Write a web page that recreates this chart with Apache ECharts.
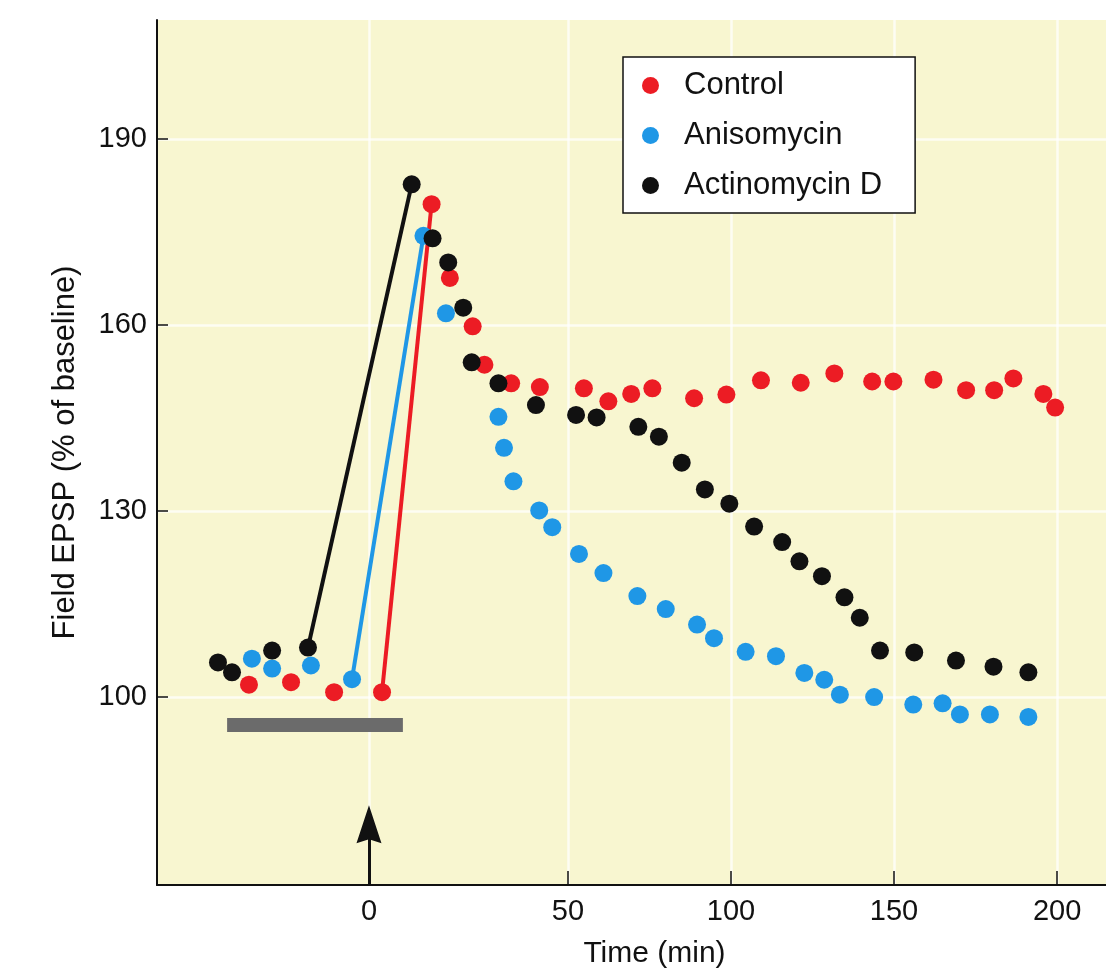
<!DOCTYPE html>
<html><head><meta charset="utf-8">
<script src="https://cdn.jsdelivr.net/npm/echarts@6/dist/echarts.min.js"></script>
<style>html,body{margin:0;padding:0;background:#fff}#c{width:1106px;height:975px}</style>
</head><body><div id="c"></div>
<script>
// ---- data ----
const xTickValues = [-11, 50, 100, 150, 200];
const xTickLabels = ['0', '50', '100', '150', '200'];
const yTickValues = [100, 130, 160, 190];

const controlTime = [-47.8, -34.9, -21.7, -7.0, 8.2, 13.8, 20.8, 24.4, 32.6, 41.4, 54.9, 62.4, 69.4, 75.9, 88.7, 98.6, 109.2, 121.4, 131.7, 143.3, 149.8, 162.1, 172.1, 180.7, 186.6, 195.8, 199.4];
const controlEPSP = [102.0, 102.4, 100.8, 100.8, 179.5, 167.6, 159.8, 153.6, 150.6, 150.0, 149.8, 147.7, 148.9, 149.8, 148.2, 148.8, 151.1, 150.7, 152.2, 150.9, 150.9, 151.2, 149.5, 149.5, 151.4, 148.9, 146.7];

const anisoTime = [-46.9, -40.7, -28.8, -16.2, 5.7, 12.6, 28.7, 30.4, 33.3, 41.2, 45.2, 53.4, 60.9, 71.3, 80.0, 89.6, 94.8, 104.5, 113.8, 122.5, 128.6, 133.4, 143.9, 155.9, 164.9, 170.2, 179.4, 191.2];
const anisoEPSP = [106.2, 104.6, 105.1, 102.9, 174.4, 161.9, 145.2, 140.2, 134.8, 130.1, 127.4, 123.1, 120.0, 116.3, 114.2, 111.7, 109.5, 107.3, 106.6, 103.9, 102.8, 100.4, 100.0, 98.8, 99.0, 97.2, 97.2, 96.8];

const actinoTime = [-57.3, -53.0, -40.7, -29.7, 2.1, 8.5, 13.3, 17.9, 20.5, 28.7, 40.2, 52.5, 58.8, 71.6, 77.9, 84.9, 92.0, 99.5, 107.1, 115.7, 121.0, 127.9, 134.8, 139.5, 145.7, 156.2, 169.0, 180.5, 191.2];
const actinoEPSP = [105.6, 104.0, 107.5, 108.0, 182.7, 174.0, 170.1, 162.8, 154.0, 150.6, 147.1, 145.5, 145.1, 143.6, 142.0, 137.8, 133.5, 131.2, 127.5, 125.0, 121.9, 119.5, 116.1, 112.8, 107.5, 107.2, 105.9, 104.9, 104.0];

// last baseline point and tetanus peak (joined by a line)
const PRE = 3, PEAK = 4;
// drug application bar and tetanus arrow
const drugBarTime = [-54.5, -0.6];
const drugBarLevel = 95.5;
const tetanusArrowTime = -11;
const tetanusArrowLevel = [69.7, 79.5];

const seriesNames = ['Control', 'Anisomycin', 'Actinomycin D'];

// ---- chart ----
const FONT = '"Liberation Sans", Arial, Helvetica, sans-serif';
const RED = '#ec1c24', BLUE = '#1f97e6', BLACK = '#111111';
const zip = (xs, ys) => xs.map((x, i) => [x, ys[i]]);
const seg = (xs, ys) => [[xs[PRE], ys[PRE]], [xs[PEAK], ys[PEAK]]];

const chart = echarts.init(document.getElementById('c'), null, {renderer: 'canvas'});

function segSeries(xs, ys, color) {
  return {type: 'line', data: seg(xs, ys), symbol: 'none', silent: true, z: 2,
    lineStyle: {color: color, width: 4}, itemStyle: {color: color}};
}
function dotSeries(name, xs, ys, color) {
  return {type: 'scatter', name: name, data: zip(xs, ys), symbol: 'circle', symbolSize: 18, z: 3,
    itemStyle: {color: color, opacity: 1}};
}

const option = {
  animation: false,
  backgroundColor: '#ffffff',
  textStyle: {fontFamily: FONT, color: '#111'},
  grid: {left: 157, right: 0, top: 20, bottom: 90, show: true, backgroundColor: '#f8f6d0', borderWidth: 0},
  legend: {
    data: seriesNames, orient: 'vertical', left: 623, top: 57,
    padding: [13, 33, 12, 19], itemGap: 19, itemWidth: 17, itemHeight: 17, icon: 'circle',
    backgroundColor: '#ffffff', borderColor: '#111', borderWidth: 1.5,
    textStyle: {fontFamily: FONT, fontSize: 31, color: '#111', padding: [0, 0, 0, 20]}
  },
  xAxis: {
    type: 'value', min: -76, max: 215,
    axisLine: {onZero: false, lineStyle: {color: '#111', width: 2}},
    axisTick: {customValues: xTickValues, inside: true, length: 14, lineStyle: {color: '#111', width: 1.5}},
    axisLabel: {customValues: xTickValues, fontSize: 29, color: '#111', margin: 12, fontFamily: FONT,
      formatter: v => { const i = xTickValues.findIndex(t => Math.abs(t - v) < 1e-6); return i >= 0 ? xTickLabels[i] : ''; }},
    splitLine: {show: true, lineStyle: {color: 'rgba(255,255,255,0.75)', width: 2.5}},
    name: 'Time (min)', nameLocation: 'middle', nameGap: 54,
    nameTextStyle: {fontSize: 30, color: '#111', fontFamily: FONT, padding: [0, 0, 0, 46]}
  },
  yAxis: {
    type: 'value', min: 69.7, max: 209.2,
    axisLine: {show: true, onZero: false, lineStyle: {color: '#111', width: 2}},
    axisTick: {show: true, customValues: yTickValues, inside: true, length: 11, lineStyle: {color: '#111', width: 1.5}},
    axisLabel: {customValues: yTickValues, fontSize: 29, color: '#111', margin: 10, fontFamily: FONT},
    splitLine: {show: true, lineStyle: {color: 'rgba(255,255,255,0.75)', width: 2.5}},
    name: 'Field EPSP (% of baseline)', nameLocation: 'middle', nameGap: 76,
    nameTextStyle: {fontSize: 31, color: '#111', fontFamily: FONT}
  },
  series: [
    {
      type: 'line', data: zip(drugBarTime, [drugBarLevel, drugBarLevel]), symbol: 'none', silent: true, z: 2,
      lineStyle: {color: '#6b6b6b', width: 14, cap: 'butt'},
      markLine: {
        silent: true, symbol: ['none', 'none'],
        label: {show: false}, lineStyle: {color: '#111', width: 3, type: 'solid'},
        data: [[{coord: [tetanusArrowTime, tetanusArrowLevel[0]]}, {coord: [tetanusArrowTime, tetanusArrowLevel[1]]}]]
      },
      markPoint: {
        silent: true,
        symbol: 'path://M0,0 L12,38 L0,34 L-12,38 Z',
        symbolSize: [25, 38],
        itemStyle: {color: '#111'},
        label: {show: false},
        data: [{coord: [tetanusArrowTime, tetanusArrowLevel[1]]}]
      }
    },
    segSeries(controlTime, controlEPSP, RED),
    segSeries(anisoTime, anisoEPSP, BLUE),
    segSeries(actinoTime, actinoEPSP, BLACK),
    dotSeries(seriesNames[0], controlTime, controlEPSP, RED),
    dotSeries(seriesNames[1], anisoTime, anisoEPSP, BLUE),
    dotSeries(seriesNames[2], actinoTime, actinoEPSP, BLACK)
  ]
};
chart.setOption(option);
</script>
</body></html>
